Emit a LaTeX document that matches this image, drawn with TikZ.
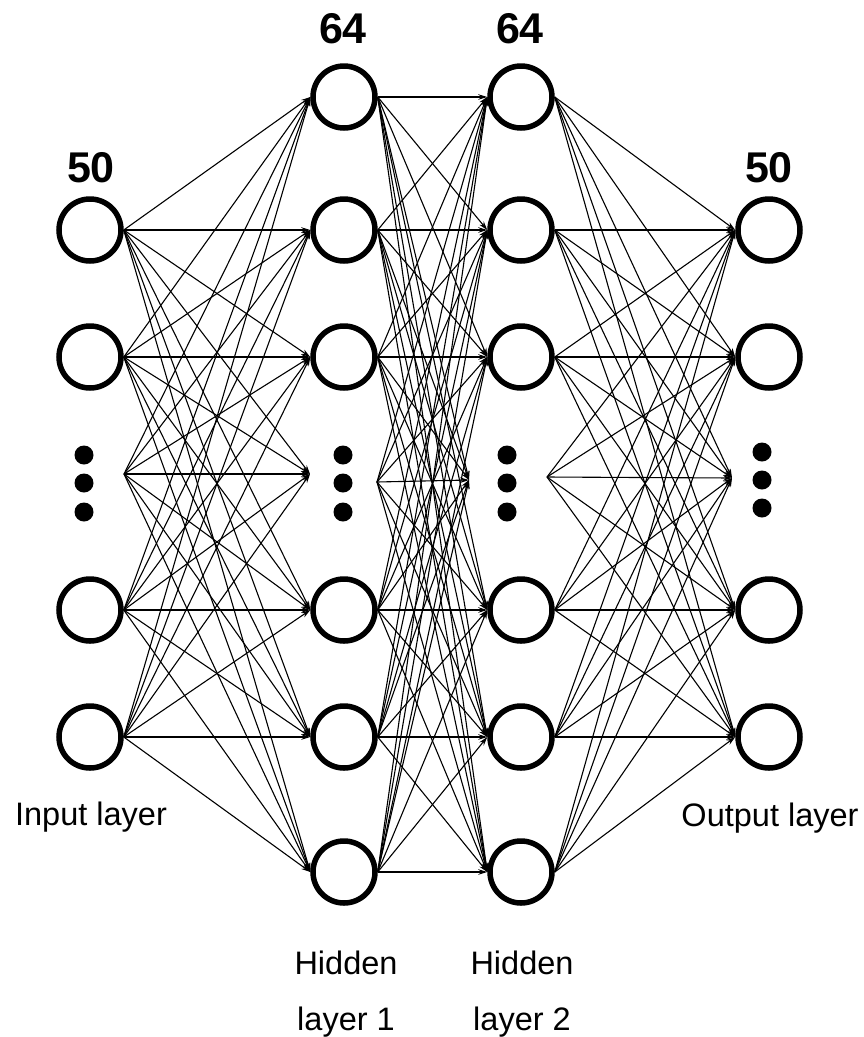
\documentclass[tikz,border=0pt]{standalone}
\usepackage{fontspec}
\setmainfont{Liberation Sans}
\usetikzlibrary{arrows.meta}
\begin{document}
\begin{tikzpicture}[x=1pt,y=-1pt,
  neuron/.style={circle,draw,line width=5.5pt,minimum size=62pt,inner sep=0pt},
  blob/.style={circle,fill,inner sep=0pt,minimum size=19pt},
  conn/.style={line width=1.1pt,-{Stealth[length=9pt,width=5.5pt]}},
  lbl/.style={font=\fontsize{32.5}{34}\selectfont,anchor=base},
  num/.style={font=\fontsize{43}{43}\selectfont\bfseries,anchor=base}]
\useasboundingbox (0,0) rectangle (864,1037);

% input layer
\foreach \k/\y in {1/230,2/357,4/610,5/737} {
  \node[neuron] (I\k) at (90,\y) {};
  \coordinate (I\k-o) at (I\k.east);
}
\coordinate (I3-o) at (124,474);
\foreach \k/\y in {1/455,2/483,3/512} \node[blob] (Id\k) at (84,\y) {};

% hidden layer 1
\foreach \k/\y in {1/97,2/230,3/357,5/610,6/737,7/872} {
  \node[neuron] (H\k) at (344,\y) {};
  \coordinate (H\k-i) at (H\k.west);
  \coordinate (H\k-o) at (H\k.east);
}
\coordinate (H4-i) at (310,474);
\coordinate (H4-o) at (377,482);
\foreach \k/\y in {1/455,2/483,3/512} \node[blob] (Hd\k) at (343,\y) {};

% hidden layer 2
\foreach \k/\y in {1/97,2/230,3/357,5/610,6/737,7/872} {
  \node[neuron] (G\k) at (521,\y) {};
  \coordinate (G\k-i) at (G\k.west);
  \coordinate (G\k-o) at (G\k.east);
}
\coordinate (G4-i) at (469,480);
\coordinate (G4-o) at (547,477);
\foreach \k/\y in {1/455,2/483,3/512} \node[blob] (Gd\k) at (507,\y) {};

% output layer
\foreach \k/\y in {1/230,2/357,4/610,5/737} {
  \node[neuron] (O\k) at (769,\y) {};
  \coordinate (O\k-i) at (O\k.west);
}
\coordinate (O3-i) at (732,478);
\foreach \k/\y in {1/452,2/480,3/508} \node[blob] (Od\k) at (762,\y) {};

% connections
\foreach \a in {1,...,5} \foreach \b in {1,...,7} \draw[conn] (I\a-o) -- (H\b-i);
\foreach \a in {1,...,7} \foreach \b in {1,...,7} \draw[conn] (H\a-o) -- (G\b-i);
\foreach \a in {1,...,7} \foreach \b in {1,...,5} \draw[conn] (G\a-o) -- (O\b-i);

% labels
\node[num] (n1) at (91,182) {50};
\node[num] (n2) at (343,43) {64};
\node[num] (n3) at (520,43) {64};
\node[num] (n4) at (769,182) {50};
\node[lbl] (l1) at (91,825) {Input layer};
\node[lbl] (l2) at (770,826) {Output layer};
\node[lbl] (l3) at (346,974) {Hidden};
\node[lbl] (l4) at (346,1030) {layer 1};
\node[lbl] (l5) at (522,974) {Hidden};
\node[lbl] (l6) at (522,1030) {layer 2};
\end{tikzpicture}
\end{document}
